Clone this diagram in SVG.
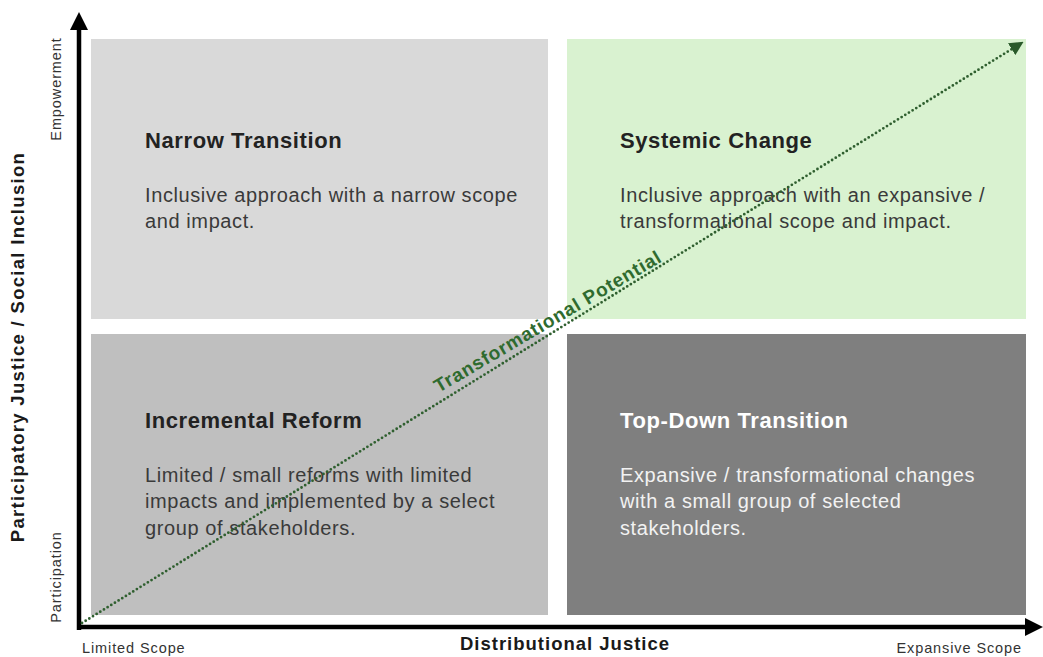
<svg xmlns="http://www.w3.org/2000/svg" width="1043" height="657" viewBox="0 0 1043 657">
  <style>
    .q-title { font-family: "Liberation Sans", Arial, sans-serif; font-size: 22px; font-weight: bold; letter-spacing: 0.6px; fill: #222222; }
    .q-body { font-family: "Liberation Sans", Arial, sans-serif; font-size: 20px; letter-spacing: 0.6px; fill: #3a3a3a; }
    .light .q-title { fill: #ffffff; }
    .light .q-body { fill: #f2f2f2; }
    .axis-title { font-family: "Liberation Sans", Arial, sans-serif; font-size: 18.5px; font-weight: bold; fill: #1a1a1a; }
    .axis-end { font-family: "Liberation Sans", Arial, sans-serif; font-size: 14.5px; letter-spacing: 0.9px; fill: #333333; }
    .trend-label { font-family: "Liberation Sans", Arial, sans-serif; font-size: 19px; font-weight: bold; letter-spacing: 0.8px; fill: #2f6b2f; }
  </style>
  <defs>
    <marker id="axisHead" markerWidth="4" markerHeight="4" refX="2" refY="2" orient="auto" markerUnits="strokeWidth">
      <path d="M0,0 L4,2 L0,4 Z" fill="#000000"/>
    </marker>
    <marker id="trendHead" markerWidth="5" markerHeight="5" refX="3.5" refY="2.5" orient="auto" markerUnits="strokeWidth">
      <path d="M0,0 L5,2.5 L0,5 Z" fill="#2a5a2a"/>
    </marker>
  </defs>

  <rect width="1043" height="657" fill="#ffffff"/>

  <!-- quadrants -->
  <g id="narrow-transition">
    <rect x="91" y="39" width="457" height="280" fill="#d9d9d9"/>
    <text class="q-title" x="145" y="148">Narrow Transition</text>
    <text class="q-body" x="145" y="202">Inclusive approach with a narrow scope</text>
    <text class="q-body" x="145" y="228">and impact.</text>
  </g>
  <g id="systemic-change">
    <rect x="567" y="39" width="459" height="280" fill="#d9f2d0"/>
    <text class="q-title" x="620" y="148">Systemic Change</text>
    <text class="q-body" x="620" y="202">Inclusive approach with an expansive /</text>
    <text class="q-body" x="620" y="228">transformational scope and impact.</text>
  </g>
  <g id="incremental-reform">
    <rect x="91" y="334" width="457" height="281" fill="#bfbfbf"/>
    <text class="q-title" x="145" y="428">Incremental Reform</text>
    <text class="q-body" x="145" y="482">Limited / small reforms with limited</text>
    <text class="q-body" x="145" y="508">impacts and implemented by a select</text>
    <text class="q-body" x="145" y="535">group of stakeholders.</text>
  </g>
  <g id="top-down-transition" class="light">
    <rect x="567" y="334" width="459" height="281" fill="#7f7f7f"/>
    <text class="q-title" x="620" y="428">Top-Down Transition</text>
    <text class="q-body" x="620" y="482">Expansive / transformational changes</text>
    <text class="q-body" x="620" y="508">with a small group of selected</text>
    <text class="q-body" x="620" y="535">stakeholders.</text>
  </g>

  <!-- axes and trend line -->
  <g id="connectors">
    <line x1="79" y1="630" x2="79" y2="21" stroke="#000000" stroke-width="4.5" marker-end="url(#axisHead)"/>
    <line x1="77" y1="627" x2="1034" y2="627" stroke="#000000" stroke-width="4.5" marker-end="url(#axisHead)"/>
    <line x1="82" y1="623" x2="1020" y2="44" stroke="#2f5f2f" stroke-width="2.8" stroke-linecap="round" stroke-dasharray="0 4.3" marker-end="url(#trendHead)"/>
  </g>

  <g id="trend-label">
    <text class="trend-label" x="551" y="327" text-anchor="middle" transform="rotate(-30.5 551 327)">Transformational Potential</text>
  </g>

  <!-- axis titles -->
  <g id="axis-labels">
    <text class="axis-title" x="0" y="0" text-anchor="middle" letter-spacing="1.3" transform="translate(23.5 347) rotate(-90)">Participatory Justice / Social Inclusion</text>
    <text class="axis-end" x="0" y="0" text-anchor="middle" transform="translate(61 89) rotate(-90)">Empowerment</text>
    <text class="axis-end" x="0" y="0" text-anchor="middle" transform="translate(61 577) rotate(-90)">Participation</text>
    <text class="axis-title" x="565" y="650" text-anchor="middle" letter-spacing="1">Distributional Justice</text>
    <text class="axis-end" x="82" y="653">Limited Scope</text>
    <text class="axis-end" x="1022" y="653" text-anchor="end">Expansive Scope</text>
  </g>
</svg>
